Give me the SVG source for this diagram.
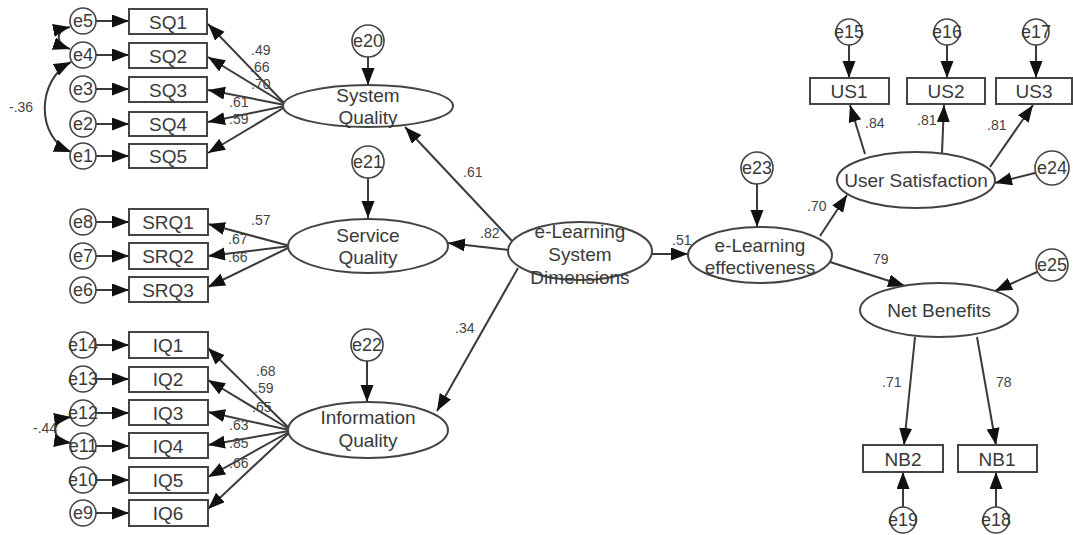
<svg xmlns="http://www.w3.org/2000/svg" width="1073" height="535" viewBox="0 0 1073 535">
<style>
.bg{fill:#fff}
.box{fill:#fff;stroke:#444;stroke-width:2}
.lat{fill:#fff;stroke:#444;stroke-width:2}
.err{fill:#fff;stroke:#444;stroke-width:1.6}
.t{font-family:"Liberation Sans",Arial,sans-serif;fill:#3a3a3a;text-anchor:middle}
.bt{font-size:19px}
.lt{font-size:19px}
.et{font-size:18px}
.pl{font-family:"Liberation Sans",Arial,sans-serif;fill:#444;font-size:14px}
.c{fill:none;stroke:#3a3a3a;stroke-width:2;marker-end:url(#ah)}
.cc{fill:none;stroke:#3a3a3a;stroke-width:2;marker-end:url(#ah);marker-start:url(#ahs)}
</style>
<defs>
<marker id="ah" markerUnits="userSpaceOnUse" markerWidth="20" markerHeight="14" refX="17" refY="6.5" orient="auto"><path d="M0,0 L17,6.5 L0,13 z" fill="#111"/></marker>
<marker id="ahs" markerUnits="userSpaceOnUse" markerWidth="20" markerHeight="14" refX="17" refY="6.5" orient="auto-start-reverse"><path d="M0,0 L17,6.5 L0,13 z" fill="#111"/></marker>
</defs>
<rect class="bg" x="0" y="0" width="1073" height="535"/>

<g id="connectors">
<path class="c" d="M96,21 L129,21"/>
<path class="c" d="M96,55 L129,55"/>
<path class="c" d="M96,89 L129,89"/>
<path class="c" d="M96,124 L129,124"/>
<path class="c" d="M96,156 L129,156"/>
<path class="c" d="M96,222 L129,222"/>
<path class="c" d="M96,256 L129,256"/>
<path class="c" d="M96,290 L129,290"/>
<path class="c" d="M96,345 L129,345"/>
<path class="c" d="M96,379 L129,379"/>
<path class="c" d="M96,413 L129,413"/>
<path class="c" d="M96,446 L129,446"/>
<path class="c" d="M96,480 L129,480"/>
<path class="c" d="M96,513 L129,513"/>
<path class="cc" d="M71,62 C36,80 36,138 71,152"/>
<path class="cc" d="M70,27 C55,30 55,44 70,49"/>
<path class="cc" d="M71,417 C50,420 50,440 71,443"/>
<path class="c" d="M285,104 L208,24"/>
<path class="c" d="M285,104 L208,57"/>
<path class="c" d="M285,105 L208,90"/>
<path class="c" d="M285,106 L208,122"/>
<path class="c" d="M285,107 L208,153"/>
<path class="c" d="M290,246 L208,224"/>
<path class="c" d="M290,246 L208,256"/>
<path class="c" d="M290,247 L208,287"/>
<path class="c" d="M289,428 L208,348"/>
<path class="c" d="M289,429 L208,380"/>
<path class="c" d="M289,430 L208,412"/>
<path class="c" d="M289,431 L208,445"/>
<path class="c" d="M289,432 L208,477"/>
<path class="c" d="M289,433 L208,509"/>
<path class="c" d="M368,57 L368,85"/>
<path class="c" d="M368,178 L368,218"/>
<path class="c" d="M367,361 L367,402"/>
<path class="c" d="M757,184 L757,227"/>
<path class="c" d="M1035,173 L995,183"/>
<path class="c" d="M1037,272 L995,291"/>
<path class="c" d="M513,242 L405,127"/>
<path class="c" d="M509,250 L448,243"/>
<path class="c" d="M518,268 L437,411"/>
<path class="c" d="M652,254 L688,254"/>
<path class="c" d="M820,236 L847,195"/>
<path class="c" d="M830,262 L905,286"/>
<path class="c" d="M865,154 L850,105"/>
<path class="c" d="M942,153 L944,105"/>
<path class="c" d="M990,167 L1033,105"/>
<path class="c" d="M849,45 L849,78"/>
<path class="c" d="M947,45 L947,78"/>
<path class="c" d="M1036,45 L1036,78"/>
<path class="c" d="M915,337 L904,445"/>
<path class="c" d="M977,337 L996,445"/>
<path class="c" d="M903,507 L903,472"/>
<path class="c" d="M996,507 L996,472"/>
</g>

<g id="path-labels">
<text class="pl" x="251" y="55">.49</text>
<text class="pl" x="250" y="72">.66</text>
<text class="pl" x="251" y="89">.70</text>
<text class="pl" x="229" y="107">.61</text>
<text class="pl" x="229" y="124">.59</text>
<text class="pl" x="9" y="112">-.36</text>
<text class="pl" x="251" y="225">.57</text>
<text class="pl" x="228" y="244">.67</text>
<text class="pl" x="228" y="262">.66</text>
<text class="pl" x="256" y="376">.68</text>
<text class="pl" x="254" y="393">.59</text>
<text class="pl" x="252" y="412">.65</text>
<text class="pl" x="229" y="430">.63</text>
<text class="pl" x="229" y="448">.85</text>
<text class="pl" x="229" y="468">.66</text>
<text class="pl" x="33" y="433">-.44</text>
<text class="pl" x="463" y="177">.61</text>
<text class="pl" x="480" y="238">.82</text>
<text class="pl" x="455" y="333">.34</text>
<text class="pl" x="672" y="245">.51</text>
<text class="pl" x="807" y="211">.70</text>
<text class="pl" x="865" y="128">.84</text>
<text class="pl" x="917" y="125">.81</text>
<text class="pl" x="987" y="130">.81</text>
<text class="pl" x="873" y="264">79</text>
<text class="pl" x="882" y="387">.71</text>
<text class="pl" x="996" y="387">78</text>
</g>

<g id="e5"><circle class="err" cx="83" cy="21" r="13"/><text class="t et" x="83" y="27">e5</text></g>
<g id="e4"><circle class="err" cx="83" cy="55" r="13"/><text class="t et" x="83" y="61">e4</text></g>
<g id="e3"><circle class="err" cx="83" cy="89" r="13"/><text class="t et" x="83" y="95">e3</text></g>
<g id="e2"><circle class="err" cx="83" cy="124" r="13"/><text class="t et" x="83" y="130">e2</text></g>
<g id="e1"><circle class="err" cx="83" cy="156" r="13"/><text class="t et" x="83" y="162">e1</text></g>
<g id="e8"><circle class="err" cx="83" cy="222" r="13"/><text class="t et" x="83" y="228">e8</text></g>
<g id="e7"><circle class="err" cx="83" cy="256" r="13"/><text class="t et" x="83" y="262">e7</text></g>
<g id="e6"><circle class="err" cx="83" cy="290" r="13"/><text class="t et" x="83" y="296">e6</text></g>
<g id="e14"><circle class="err" cx="83" cy="345" r="13"/><text class="t et" x="83" y="351">e14</text></g>
<g id="e13"><circle class="err" cx="83" cy="379" r="13"/><text class="t et" x="83" y="385">e13</text></g>
<g id="e12"><circle class="err" cx="83" cy="413" r="13"/><text class="t et" x="83" y="419">e12</text></g>
<g id="e11"><circle class="err" cx="83" cy="446" r="13"/><text class="t et" x="83" y="452">e11</text></g>
<g id="e10"><circle class="err" cx="83" cy="480" r="13"/><text class="t et" x="83" y="486">e10</text></g>
<g id="e9"><circle class="err" cx="83" cy="513" r="13"/><text class="t et" x="83" y="519">e9</text></g>

<g id="SQ1"><rect class="box" x="129" y="9" width="78" height="25"/><text class="t bt" x="168" y="29">SQ1</text></g>
<g id="SQ2"><rect class="box" x="129" y="43" width="78" height="25"/><text class="t bt" x="168" y="63">SQ2</text></g>
<g id="SQ3"><rect class="box" x="129" y="77" width="78" height="25"/><text class="t bt" x="168" y="97">SQ3</text></g>
<g id="SQ4"><rect class="box" x="129" y="112" width="78" height="24"/><text class="t bt" x="168" y="131">SQ4</text></g>
<g id="SQ5"><rect class="box" x="129" y="144" width="78" height="24"/><text class="t bt" x="168" y="163">SQ5</text></g>
<g id="SRQ1"><rect class="box" x="129" y="209" width="79" height="26"/><text class="t bt" x="168" y="229">SRQ1</text></g>
<g id="SRQ2"><rect class="box" x="129" y="243" width="79" height="26"/><text class="t bt" x="168" y="263">SRQ2</text></g>
<g id="SRQ3"><rect class="box" x="129" y="277" width="79" height="25"/><text class="t bt" x="168" y="297">SRQ3</text></g>
<g id="IQ1"><rect class="box" x="129" y="332" width="79" height="26"/><text class="t bt" x="168" y="352">IQ1</text></g>
<g id="IQ2"><rect class="box" x="129" y="367" width="79" height="25"/><text class="t bt" x="168" y="386">IQ2</text></g>
<g id="IQ3"><rect class="box" x="129" y="400" width="79" height="25"/><text class="t bt" x="168" y="420">IQ3</text></g>
<g id="IQ4"><rect class="box" x="129" y="433" width="79" height="25"/><text class="t bt" x="168" y="453">IQ4</text></g>
<g id="IQ5"><rect class="box" x="129" y="467" width="79" height="26"/><text class="t bt" x="168" y="487">IQ5</text></g>
<g id="IQ6"><rect class="box" x="129" y="500" width="79" height="26"/><text class="t bt" x="168" y="520">IQ6</text></g>

<g id="SystemQuality"><ellipse class="lat" cx="368" cy="106" rx="85" ry="21"/><text class="t lt" x="368" y="102">System</text><text class="t lt" x="368" y="124">Quality</text></g>
<g id="e20"><circle class="err" cx="368" cy="41" r="16"/><text class="t et" x="368" y="47">e20</text></g>
<g id="ServiceQuality"><ellipse class="lat" cx="368" cy="246" rx="80" ry="27"/><text class="t lt" x="368" y="242">Service</text><text class="t lt" x="368" y="264">Quality</text></g>
<g id="e21"><circle class="err" cx="368" cy="162" r="16"/><text class="t et" x="368" y="168">e21</text></g>
<g id="InformationQuality"><ellipse class="lat" cx="368" cy="430" rx="80" ry="28"/><text class="t lt" x="368" y="424">Information</text><text class="t lt" x="368" y="447">Quality</text></g>
<g id="e22"><circle class="err" cx="367" cy="345" r="16"/><text class="t et" x="367" y="351">e22</text></g>

<g id="ESD"><ellipse class="lat" cx="580" cy="251" rx="72" ry="29"/><text class="t lt" x="580" y="238">e-Learning</text><text class="t lt" x="580" y="261">System</text><text class="t lt" x="580" y="284">Dimensions</text></g>
<g id="ELE"><ellipse class="lat" cx="760" cy="255" rx="72" ry="28"/><text class="t lt" x="760" y="252">e-Learning</text><text class="t lt" x="760" y="274">effectiveness</text></g>
<g id="e23"><circle class="err" cx="757" cy="168" r="16"/><text class="t et" x="757" y="174">e23</text></g>

<g id="UserSatisfaction"><ellipse class="lat" cx="916" cy="180" rx="79" ry="28"/><text class="t lt" x="916" y="187">User Satisfaction</text></g>
<g id="e24"><circle class="err" cx="1052" cy="168" r="17"/><text class="t et" x="1052" y="174">e24</text></g>
<g id="US1"><rect class="box" x="810" y="78" width="79" height="26"/><text class="t bt" x="849" y="98">US1</text></g>
<g id="US2"><rect class="box" x="907" y="78" width="78" height="26"/><text class="t bt" x="946" y="98">US2</text></g>
<g id="US3"><rect class="box" x="996" y="78" width="76" height="26"/><text class="t bt" x="1034" y="98">US3</text></g>
<g id="e15"><circle class="err" cx="849" cy="32" r="13"/><text class="t et" x="849" y="38">e15</text></g>
<g id="e16"><circle class="err" cx="947" cy="32" r="13"/><text class="t et" x="947" y="38">e16</text></g>
<g id="e17"><circle class="err" cx="1036" cy="32" r="13"/><text class="t et" x="1036" y="38">e17</text></g>

<g id="NetBenefits"><ellipse class="lat" cx="939" cy="310" rx="79" ry="27"/><text class="t lt" x="939" y="317">Net Benefits</text></g>
<g id="e25"><circle class="err" cx="1052" cy="265" r="16"/><text class="t et" x="1052" y="271">e25</text></g>
<g id="NB2"><rect class="box" x="863" y="445" width="80" height="27"/><text class="t bt" x="903" y="466">NB2</text></g>
<g id="NB1"><rect class="box" x="958" y="445" width="79" height="27"/><text class="t bt" x="997" y="466">NB1</text></g>
<g id="e19"><circle class="err" cx="903" cy="520" r="13"/><text class="t et" x="903" y="526">e19</text></g>
<g id="e18"><circle class="err" cx="996" cy="520" r="13"/><text class="t et" x="996" y="526">e18</text></g>
</svg>
